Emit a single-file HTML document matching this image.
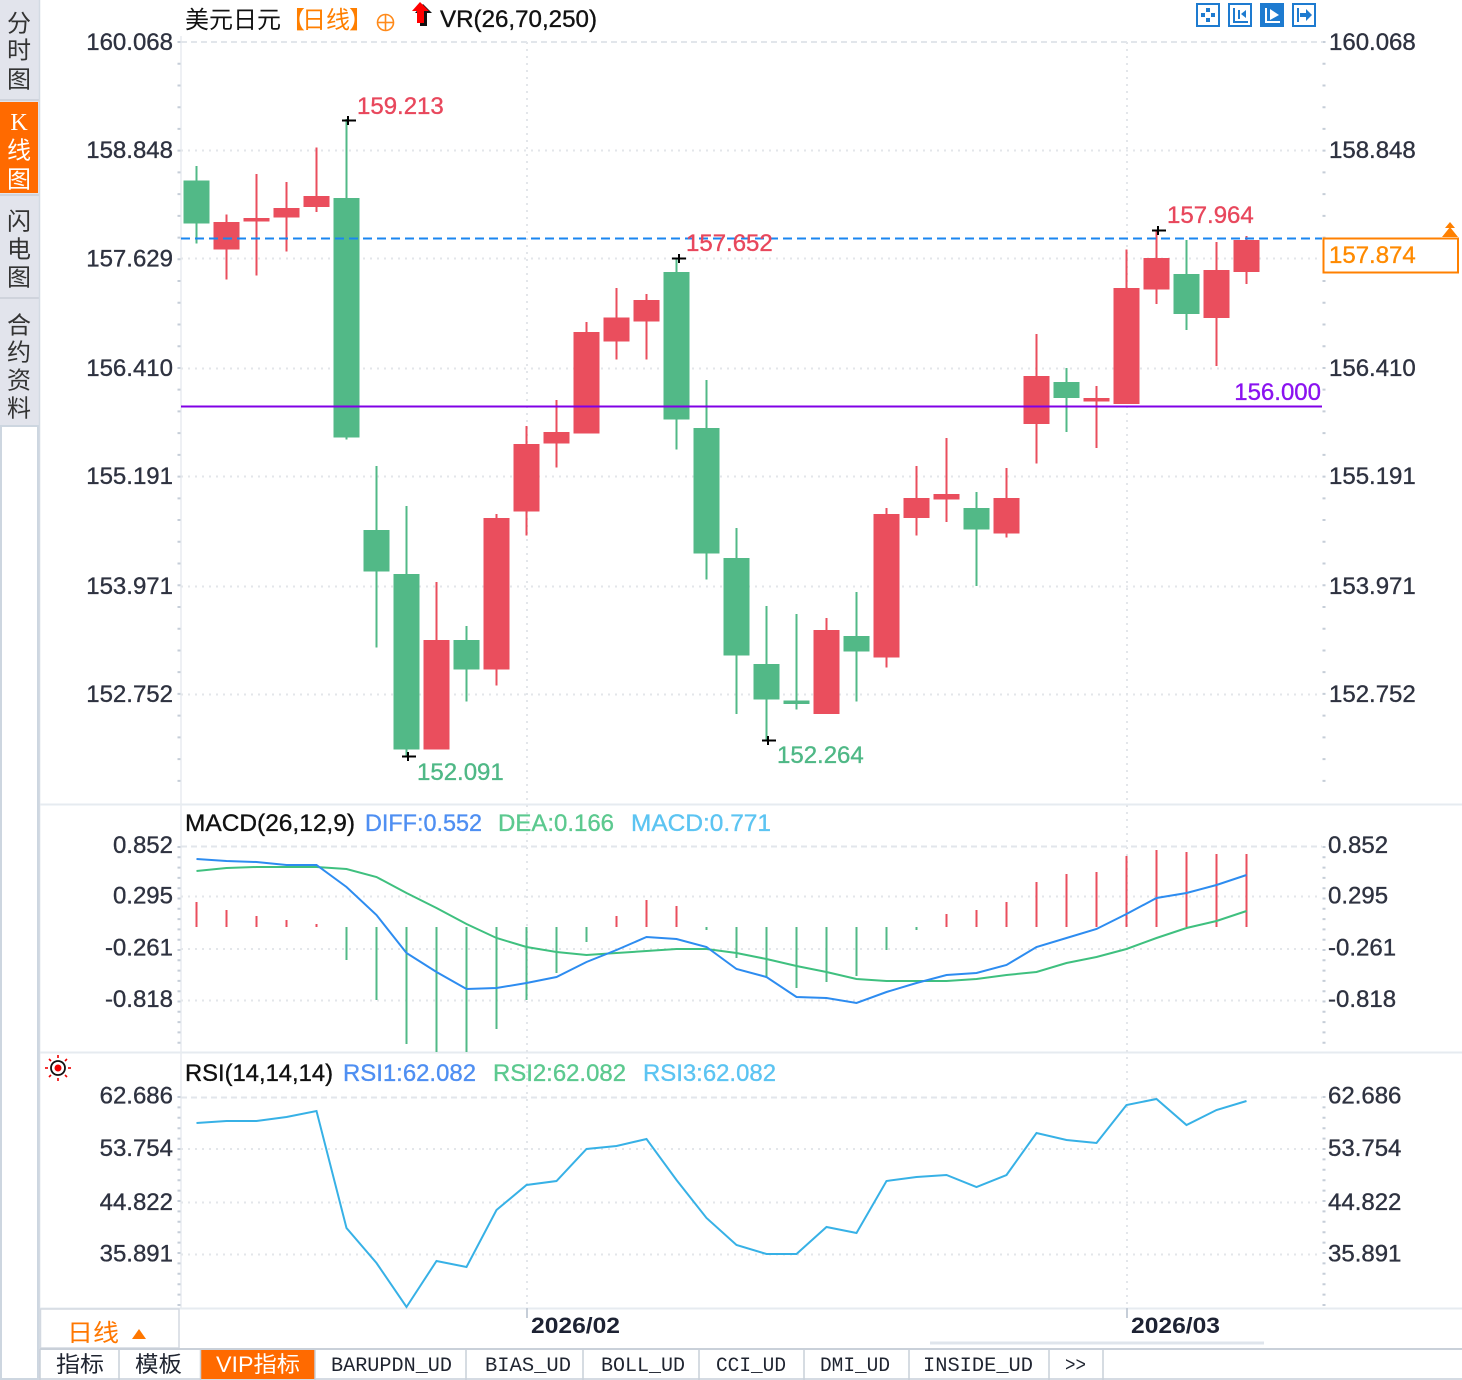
<!DOCTYPE html>
<html><head><meta charset="utf-8"><style>
html,body{margin:0;padding:0;background:#fff;}
svg{display:block;}
.ax{font-family:"Liberation Sans",Arial,sans-serif;font-size:24px;fill:#2e3240;stroke:#2e3240;stroke-width:0.35px;}
.cj{font-family:"Liberation Sans","Noto Sans CJK SC","WenQuanYi Zen Hei",sans-serif;}
.mono{font-family:"Liberation Mono","Noto Sans CJK SC",monospace;font-size:20px;fill:#1f2430;}
.hb{stroke-width:0.35px;}
</style></head><body>
<svg width="1462" height="1380" viewBox="0 0 1462 1380" xmlns="http://www.w3.org/2000/svg">
<rect x="0" y="0" width="1462" height="1380" fill="#fff"/>

<!-- Left sidebar -->
<rect x="0" y="0" width="40" height="426" fill="#e2e4ec"/>
<rect x="0" y="102" width="38" height="91" fill="#ff6a00"/>
<line x1="0" y1="100" x2="40" y2="100" stroke="#cfd3dc" stroke-width="2"/>
<line x1="0" y1="195" x2="40" y2="195" stroke="#cfd3dc" stroke-width="2"/>
<line x1="0" y1="298" x2="40" y2="298" stroke="#cfd3dc" stroke-width="2"/>
<rect x="1" y="426" width="37" height="953" fill="#fff" stroke="#cdd6e0" stroke-width="2"/>
<g class="cj" font-size="24" text-anchor="middle" dominant-baseline="central" fill="#333">
<text x="19" y="24">分</text><text x="19" y="51">时</text><text x="19" y="80">图</text>
<text x="19" y="123" fill="#fff" font-family="Liberation Serif">K</text><text x="19" y="151" fill="#fff">线</text><text x="19" y="180" fill="#fff">图</text>
<text x="19" y="222">闪</text><text x="19" y="250">电</text><text x="19" y="278">图</text>
<text x="19" y="326">合</text><text x="19" y="353">约</text><text x="19" y="381">资</text><text x="19" y="409">料</text>
</g>
<line x1="39.5" y1="0" x2="39.5" y2="1380" stroke="#d3dae3" stroke-width="1.5"/>

<!-- Panel separators -->
<g stroke="#e6ebf0" stroke-width="2">
<line x1="40" y1="804.5" x2="1462" y2="804.5"/>
<line x1="40" y1="1052.5" x2="1462" y2="1052.5"/>
<line x1="40" y1="1308.5" x2="1462" y2="1308.5"/>
</g>
<!-- Left axis line -->
<line x1="181" y1="36" x2="181" y2="1308" stroke="#e8ecf0" stroke-width="1.5"/>
<g stroke="#c6ced8" stroke-width="3">
<line x1="179" y1="41" x2="179" y2="800" stroke-dasharray="2 19.73"/>
<line x1="1324" y1="41" x2="1324" y2="800" stroke-dasharray="2 19.73"/>
<line x1="179" y1="846" x2="179" y2="1050" stroke-dasharray="2 8.3"/>
<line x1="1324" y1="846" x2="1324" y2="1050" stroke-dasharray="2 8.3"/>
<line x1="179" y1="1096" x2="179" y2="1306" stroke-dasharray="2 8.4"/>
<line x1="1324" y1="1096" x2="1324" y2="1306" stroke-dasharray="2 8.4"/>
</g>

<!-- Grid lines -->
<g stroke="#e2e6eb" stroke-width="2" shape-rendering="crispEdges">
<line x1="181" y1="42" x2="1322" y2="42" stroke-dasharray="6 4"/>
<line x1="181" y1="846.7" x2="1322" y2="846.7" stroke-dasharray="6 4"/>
<line x1="181" y1="1097.3" x2="1322" y2="1097.3" stroke-dasharray="6 4"/>
</g>
<g stroke="#e3e6ea" stroke-width="2" stroke-dasharray="2 5" shape-rendering="crispEdges">
<line x1="181" y1="150.7" x2="1322" y2="150.7"/>
<line x1="181" y1="258.5" x2="1322" y2="258.5"/>
<line x1="181" y1="368.6" x2="1322" y2="368.6"/>
<line x1="181" y1="476.4" x2="1322" y2="476.4"/>
<line x1="181" y1="586.4" x2="1322" y2="586.4"/>
<line x1="181" y1="694.3" x2="1322" y2="694.3"/>
<line x1="181" y1="896.7" x2="1322" y2="896.7"/>
<line x1="181" y1="949" x2="1322" y2="949"/>
<line x1="181" y1="1000.7" x2="1322" y2="1000.7"/>
<line x1="181" y1="1149" x2="1322" y2="1149"/>
<line x1="181" y1="1202.7" x2="1322" y2="1202.7"/>
<line x1="181" y1="1254.3" x2="1322" y2="1254.3"/>
<line x1="527" y1="42" x2="527" y2="1308"/>
<line x1="1127" y1="42" x2="1127" y2="1308"/>
</g>

<!-- Header -->
<text class="cj" x="185" y="28" font-size="24" fill="#111">美元日元</text>
<g class="cj" font-size="24" fill="#ff7f00">
<text x="281" y="28">【</text><text x="302" y="28">日线</text><text x="349" y="28">】</text>
</g>
<circle cx="385.5" cy="22.5" r="8" fill="none" stroke="#ff8a1a" stroke-width="1.6"/>
<line x1="377.5" y1="22.5" x2="393.5" y2="22.5" stroke="#ff8a1a" stroke-width="1.6"/>
<line x1="385.5" y1="14.5" x2="385.5" y2="30.5" stroke="#ff8a1a" stroke-width="1.6"/>
<path d="M423 4 L432 13 L427 13 L427 26 L420 26 L420 13 L415 13 Z" fill="#111"/>
<path d="M420 2 L429 11 L424 11 L424 23 L417 23 L417 11 L412 11 Z" fill="#ff0000"/>
<text x="440" y="27" font-family="Liberation Sans,sans-serif" font-size="24" fill="#111" stroke="#111" class="hb" textLength="157" lengthAdjust="spacingAndGlyphs">VR(26,70,250)</text>

<!-- Top-right icons -->
<g stroke="#1e7bd0" stroke-width="2" fill="none">
<rect x="1197" y="4" width="22" height="22"/>
<rect x="1229" y="4" width="22" height="22"/>
<rect x="1261" y="4" width="22" height="22" fill="#1e7bd0"/>
<rect x="1293" y="4" width="22" height="22"/>
</g>
<g fill="#1e7bd0">
<rect x="1206" y="8" width="4" height="4"/><rect x="1206" y="18" width="4" height="4"/>
<rect x="1201" y="13" width="4" height="4"/><rect x="1211" y="13" width="4" height="4"/>
<rect x="1233" y="8" width="2" height="15"/><rect x="1233" y="21" width="15" height="2"/>
<rect x="1238" y="10" width="2" height="9"/><path d="M1241 14 L1246 10 L1246 18 Z"/>
<rect x="1297" y="8" width="2" height="14"/><rect x="1300" y="13" width="7" height="4"/><path d="M1306 9 L1312 15 L1306 21 Z"/>
</g>
<g fill="#fff">
<rect x="1265" y="8" width="2" height="15"/><rect x="1265" y="21" width="15" height="2"/>
<path d="M1270 9 L1279 15 L1270 20 Z"/>
</g>

<!-- Candles -->
<g fill="#52b987" shape-rendering="crispEdges">
<rect x="195.5" y="166" width="2" height="77.5"/><rect x="183.5" y="180.5" width="26" height="43.2"/>
<rect x="345.5" y="119" width="2" height="320.7"/><rect x="333.5" y="198.1" width="26" height="239.4"/>
<rect x="375.5" y="466" width="2" height="181.4"/><rect x="363.5" y="530" width="26" height="41.7"/>
<rect x="405.5" y="506" width="2" height="250"/><rect x="393.5" y="574" width="26" height="175.5"/>
<rect x="465.5" y="626" width="2" height="75.5"/><rect x="453.5" y="640" width="26" height="29.4"/>
<rect x="675.5" y="258" width="2" height="191.4"/><rect x="663.5" y="272" width="26" height="147.5"/>
<rect x="705.5" y="380" width="2" height="199.5"/><rect x="693.5" y="428" width="26" height="125.6"/>
<rect x="735.5" y="528" width="2" height="185.8"/><rect x="723.5" y="558" width="26" height="97.7"/>
<rect x="765.5" y="606" width="2" height="135"/><rect x="753.5" y="664" width="26" height="35.7"/>
<rect x="795.5" y="614" width="2" height="95.7"/><rect x="783.5" y="700.5" width="26" height="3.3"/>
<rect x="855.5" y="592" width="2" height="109.6"/><rect x="843.5" y="636" width="26" height="15.7"/>
<rect x="975.5" y="492" width="2" height="93.8"/><rect x="963.5" y="508" width="26" height="21.6"/>
<rect x="1065.5" y="368" width="2" height="64"/><rect x="1053.5" y="382" width="26" height="16"/>
<rect x="1185.5" y="240" width="2" height="90"/><rect x="1173.5" y="274" width="26" height="40"/>
</g>
<g fill="#ea4e5d" shape-rendering="crispEdges">
<rect x="225.5" y="214.4" width="2" height="65.1"/><rect x="213.5" y="221.9" width="26" height="27.7"/>
<rect x="255.5" y="173.9" width="2" height="101.7"/><rect x="243.5" y="217.9" width="26" height="3.6"/>
<rect x="285.5" y="181.8" width="2" height="69.6"/><rect x="273.5" y="207.8" width="26" height="9.7"/>
<rect x="315.5" y="147.5" width="2" height="64.3"/><rect x="303.5" y="195.9" width="26" height="11"/>
<rect x="435.5" y="582" width="2" height="167.5"/><rect x="423.5" y="640" width="26" height="109.5"/>
<rect x="495.5" y="514" width="2" height="171.7"/><rect x="483.5" y="518" width="26" height="151.4"/>
<rect x="525.5" y="426" width="2" height="109.6"/><rect x="513.5" y="444" width="26" height="67.4"/>
<rect x="555.5" y="400" width="2" height="67.4"/><rect x="543.5" y="431.8" width="26" height="11.9"/>
<rect x="585.5" y="322" width="2" height="111.6"/><rect x="573.5" y="332" width="26" height="101.6"/>
<rect x="615.5" y="288" width="2" height="71.6"/><rect x="603.5" y="317.4" width="26" height="24.2"/>
<rect x="645.5" y="294" width="2" height="65.6"/><rect x="633.5" y="299.8" width="26" height="21.5"/>
<rect x="825.5" y="618" width="2" height="95.8"/><rect x="813.5" y="629.8" width="26" height="84"/>
<rect x="885.5" y="508" width="2" height="159.6"/><rect x="873.5" y="514" width="26" height="143.6"/>
<rect x="915.5" y="466" width="2" height="69.5"/><rect x="903.5" y="498" width="26" height="19.8"/>
<rect x="945.5" y="438" width="2" height="83.8"/><rect x="933.5" y="494" width="26" height="5.6"/>
<rect x="1005.5" y="468" width="2" height="69.7"/><rect x="993.5" y="498" width="26" height="35.7"/>
<rect x="1035.5" y="334" width="2" height="129.7"/><rect x="1023.5" y="376" width="26" height="47.8"/>
<rect x="1095.5" y="386" width="2" height="61.8"/><rect x="1083.5" y="398" width="26" height="3.6"/>
<rect x="1125.5" y="249.6" width="2" height="154.2"/><rect x="1113.5" y="288" width="26" height="115.8"/>
<rect x="1155.5" y="230" width="2" height="74"/><rect x="1143.5" y="258" width="26" height="31.5"/>
<rect x="1215.5" y="242" width="2" height="124"/><rect x="1203.5" y="270" width="26" height="48"/>
<rect x="1245.5" y="236" width="2" height="48"/><rect x="1233.5" y="240" width="26" height="32"/>
</g>

<!-- Reference lines -->
<line x1="181" y1="238.5" x2="1322" y2="238.5" stroke="#1a86f0" stroke-width="2" stroke-dasharray="9 5"/>
<line x1="181" y1="406.5" x2="1322" y2="406.5" stroke="#8000e6" stroke-width="2"/>

<!-- Crosses -->
<g stroke="#000" stroke-width="2">
<line x1="342" y1="120.5" x2="356" y2="120.5"/><line x1="348" y1="116" x2="348" y2="125"/>
<line x1="672" y1="258.5" x2="686" y2="258.5"/><line x1="679" y1="254" x2="679" y2="263"/>
<line x1="402" y1="756.5" x2="416" y2="756.5"/><line x1="408" y1="752" x2="408" y2="761"/>
<line x1="762" y1="740.5" x2="776" y2="740.5"/><line x1="768" y1="736" x2="768" y2="745"/>
<line x1="1152" y1="230.5" x2="1166" y2="230.5"/><line x1="1158" y1="226" x2="1158" y2="235"/>
</g>

<!-- Price labels -->
<g font-family="Liberation Sans,sans-serif" font-size="24" class="hb">
<text x="357" y="114" fill="#e8475c" stroke="#e8475c">159.213</text>
<text x="686" y="251" fill="#e8475c" stroke="#e8475c">157.652</text>
<text x="1167" y="223" fill="#e8475c" stroke="#e8475c">157.964</text>
<text x="417" y="780" fill="#4fb886" stroke="#4fb886">152.091</text>
<text x="777" y="763" fill="#4fb886" stroke="#4fb886">152.264</text>
<text x="1321" y="400" fill="#8a12f0" stroke="#8a12f0" text-anchor="end">156.000</text>
</g>
<rect x="1323.5" y="238.5" width="134.5" height="34" fill="#fff" stroke="#ff8000" stroke-width="2"/>
<text x="1329" y="263" font-family="Liberation Sans,sans-serif" font-size="24" fill="#ff8a00" stroke="#ff8a00" class="hb">157.874</text>
<path d="M1450 222 L1455 228 L1445 228 Z M1450 227 L1458 237 L1442 237 Z" fill="#ff8000"/>

<!-- Axis labels main -->
<g class="ax" text-anchor="end">
<text x="173" y="50">160.068</text>
<text x="173" y="158">158.848</text>
<text x="173" y="266.5">157.629</text>
<text x="173" y="376">156.410</text>
<text x="173" y="484">155.191</text>
<text x="173" y="594">153.971</text>
<text x="173" y="702">152.752</text>
<text x="173" y="853">0.852</text>
<text x="173" y="903.5">0.295</text>
<text x="173" y="955.5">-0.261</text>
<text x="173" y="1007">-0.818</text>
<text x="173" y="1103.5">62.686</text>
<text x="173" y="1156">53.754</text>
<text x="173" y="1210">44.822</text>
<text x="173" y="1261.5">35.891</text>
</g>
<g class="ax">
<text x="1329" y="50">160.068</text>
<text x="1329" y="158">158.848</text>
<text x="1329" y="376">156.410</text>
<text x="1329" y="484">155.191</text>
<text x="1329" y="594">153.971</text>
<text x="1329" y="702">152.752</text>
<text x="1328" y="853">0.852</text>
<text x="1328" y="903.5">0.295</text>
<text x="1328" y="955.5">-0.261</text>
<text x="1328" y="1007">-0.818</text>
<text x="1328" y="1103.5">62.686</text>
<text x="1328" y="1156">53.754</text>
<text x="1328" y="1210">44.822</text>
<text x="1328" y="1261.5">35.891</text>
</g>

<!-- MACD -->
<g font-family="Liberation Sans,sans-serif" font-size="24" class="hb">
<text x="185" y="831" fill="#111" stroke="#111" textLength="170" lengthAdjust="spacingAndGlyphs">MACD(26,12,9)</text>
<text x="365" y="831" fill="#4f8ff2" stroke="#4f8ff2" textLength="117" lengthAdjust="spacingAndGlyphs">DIFF:0.552</text>
<text x="498" y="831" fill="#5cc98f" stroke="#5cc98f" textLength="116" lengthAdjust="spacingAndGlyphs">DEA:0.166</text>
<text x="631" y="831" fill="#5cc4f2" stroke="#5cc4f2" textLength="140" lengthAdjust="spacingAndGlyphs">MACD:0.771</text>
</g>
<g fill="#ea4e5d" shape-rendering="crispEdges">
<rect x="195.5" y="902" width="2" height="25"/>
<rect x="225.5" y="910" width="2" height="17"/>
<rect x="255.5" y="916" width="2" height="11"/>
<rect x="285.5" y="920" width="2" height="7"/>
<rect x="315.5" y="924" width="2" height="3"/>
<rect x="615.5" y="916" width="2" height="11"/>
<rect x="645.5" y="900" width="2" height="27"/>
<rect x="675.5" y="906" width="2" height="21"/>
<rect x="945.5" y="914" width="2" height="13"/>
<rect x="975.5" y="910" width="2" height="17"/>
<rect x="1005.5" y="902" width="2" height="25"/>
<rect x="1035.5" y="882" width="2" height="45"/>
<rect x="1065.5" y="874" width="2" height="53"/>
<rect x="1095.5" y="872" width="2" height="55"/>
<rect x="1125.5" y="856" width="2" height="71"/>
<rect x="1155.5" y="850" width="2" height="77"/>
<rect x="1185.5" y="852" width="2" height="75"/>
<rect x="1215.5" y="854" width="2" height="73"/>
<rect x="1245.5" y="854" width="2" height="73"/>
</g>
<g fill="#52b987" shape-rendering="crispEdges">
<rect x="345.5" y="927" width="2" height="33"/>
<rect x="375.5" y="927" width="2" height="73"/>
<rect x="405.5" y="927" width="2" height="117"/>
<rect x="435.5" y="927" width="2" height="125"/>
<rect x="465.5" y="927" width="2" height="125"/>
<rect x="495.5" y="927" width="2" height="102"/>
<rect x="525.5" y="927" width="2" height="73"/>
<rect x="555.5" y="927" width="2" height="46"/>
<rect x="585.5" y="927" width="2" height="15"/>
<rect x="705.5" y="927" width="2" height="3"/>
<rect x="735.5" y="927" width="2" height="31"/>
<rect x="765.5" y="927" width="2" height="51"/>
<rect x="795.5" y="927" width="2" height="61"/>
<rect x="825.5" y="927" width="2" height="55"/>
<rect x="855.5" y="927" width="2" height="49"/>
<rect x="885.5" y="927" width="2" height="23"/>
<rect x="915.5" y="927" width="2" height="3"/>
</g>
<polyline fill="none" stroke="#3fc07f" stroke-width="2" points="196.5,871 226.5,868 256.5,867 286.5,867 316.5,867 346.5,869 376.5,877 406.5,893 436.5,908 466.5,924 496.5,938 526.5,947 556.5,952 586.5,955 616.5,953 646.5,951 676.5,949 706.5,949 736.5,953 766.5,959 796.5,966 826.5,972 856.5,979 886.5,981 916.5,981 946.5,981 976.5,979 1006.5,975 1036.5,972 1066.5,963 1096.5,957 1126.5,949 1156.5,938 1186.5,928 1216.5,921 1246.5,911"/>
<polyline fill="none" stroke="#2d8cf0" stroke-width="2" points="196.5,859 226.5,861 256.5,862 286.5,865 316.5,865 346.5,887 376.5,915 406.5,953 436.5,972 466.5,989 496.5,988 526.5,983 556.5,977 586.5,962 616.5,950 646.5,937 676.5,939 706.5,947 736.5,969 766.5,977 796.5,997 826.5,998 856.5,1003 886.5,992 916.5,983 946.5,975 976.5,973 1006.5,965 1036.5,947 1066.5,938 1096.5,929 1126.5,914 1156.5,898 1186.5,893 1216.5,885 1246.5,875"/>

<!-- RSI -->
<g>
<circle cx="58" cy="1068" r="7" fill="none" stroke="#111" stroke-width="1.8"/>
<circle cx="58" cy="1068" r="3.5" fill="#e00"/>
<g stroke="#e00" stroke-width="1.6">
<line x1="58" y1="1055" x2="58" y2="1058"/><line x1="58" y1="1078" x2="58" y2="1081"/>
<line x1="45" y1="1068" x2="48" y2="1068"/><line x1="68" y1="1068" x2="71" y2="1068"/>
<line x1="49" y1="1059" x2="51" y2="1061"/><line x1="65" y1="1075" x2="67" y2="1077"/>
<line x1="67" y1="1059" x2="65" y2="1061"/><line x1="49" y1="1077" x2="51" y2="1075"/>
</g>
</g>
<g font-family="Liberation Sans,sans-serif" font-size="24" class="hb">
<text x="185" y="1081" fill="#111" stroke="#111" textLength="148" lengthAdjust="spacingAndGlyphs">RSI(14,14,14)</text>
<text x="343" y="1081" fill="#4f8ff2" stroke="#4f8ff2" textLength="133" lengthAdjust="spacingAndGlyphs">RSI1:62.082</text>
<text x="493" y="1081" fill="#5cc98f" stroke="#5cc98f" textLength="133" lengthAdjust="spacingAndGlyphs">RSI2:62.082</text>
<text x="643" y="1081" fill="#5cc4f2" stroke="#5cc4f2" textLength="133" lengthAdjust="spacingAndGlyphs">RSI3:62.082</text>
</g>
<polyline fill="none" stroke="#37b1e6" stroke-width="2" points="196.5,1123 226.5,1121 256.5,1121 286.5,1117 316.5,1111 346.5,1228 376.5,1263 406.5,1307 436.5,1261 466.5,1267 496.5,1210 526.5,1185 556.5,1181 586.5,1149 616.5,1146 646.5,1139 676.5,1180 706.5,1218 736.5,1245 766.5,1254 796.5,1254 826.5,1227 856.5,1233 886.5,1181 916.5,1177 946.5,1175 976.5,1187 1006.5,1175 1036.5,1133 1066.5,1140 1096.5,1143 1126.5,1105 1156.5,1099 1186.5,1125 1216.5,1110 1246.5,1101"/>

<!-- X axis -->
<rect x="40.5" y="1309" width="138.5" height="39" fill="#fff" stroke="#d3d9e1" stroke-width="1.5"/>
<text class="cj" x="67" y="1341" font-size="24" fill="#ff7700" textLength="52" lengthAdjust="spacingAndGlyphs">日线</text>
<path d="M139 1329 L146 1339 L132 1339 Z" fill="#ff7700"/>
<line x1="527" y1="1308" x2="527" y2="1318" stroke="#c6ced8" stroke-width="2"/>
<line x1="1127" y1="1308" x2="1127" y2="1318" stroke="#c6ced8" stroke-width="2"/>
<g font-family="Liberation Sans,sans-serif" font-size="22" font-weight="bold" fill="#1d2233">
<text x="531" y="1333" textLength="89" lengthAdjust="spacingAndGlyphs">2026/02</text>
<text x="1131" y="1333" textLength="89" lengthAdjust="spacingAndGlyphs">2026/03</text>
</g>
<line x1="930" y1="1343" x2="1264" y2="1343" stroke="#dfe5ec" stroke-width="3"/>

<!-- Bottom tabs -->
<line x1="40" y1="1349" x2="1462" y2="1349" stroke="#c9d0d9" stroke-width="2"/>
<line x1="40" y1="1379" x2="1462" y2="1379" stroke="#d5dbe3" stroke-width="2"/>
<rect x="201" y="1350" width="114" height="29" fill="#ff6a00"/>
<g stroke="#c9d0d9" stroke-width="1.5">
<line x1="40" y1="1349" x2="40" y2="1380"/>
<line x1="119" y1="1349" x2="119" y2="1380"/>
<line x1="200.5" y1="1349" x2="200.5" y2="1380"/>
<line x1="315" y1="1349" x2="315" y2="1380"/>
<line x1="466" y1="1349" x2="466" y2="1380"/>
<line x1="583" y1="1349" x2="583" y2="1380"/>
<line x1="699" y1="1349" x2="699" y2="1380"/>
<line x1="804" y1="1349" x2="804" y2="1380"/>
<line x1="909" y1="1349" x2="909" y2="1380"/>
<line x1="1049" y1="1349" x2="1049" y2="1380"/>
<line x1="1103" y1="1349" x2="1103" y2="1380"/>
</g>
<g class="mono">
<text x="56" y="1372" class="cj" font-size="22" fill="#1f2430" textLength="48" lengthAdjust="spacingAndGlyphs">指标</text>
<text x="135" y="1372" class="cj" font-size="22" fill="#1f2430" textLength="47" lengthAdjust="spacingAndGlyphs">模板</text>
<text x="216" y="1372" class="cj" font-size="22" fill="#fff" textLength="84" lengthAdjust="spacingAndGlyphs">VIP指标</text>
<text x="331" y="1371" textLength="121" lengthAdjust="spacingAndGlyphs">BARUPDN_UD</text>
<text x="485" y="1371" textLength="86" lengthAdjust="spacingAndGlyphs">BIAS_UD</text>
<text x="601" y="1371" textLength="84" lengthAdjust="spacingAndGlyphs">BOLL_UD</text>
<text x="716" y="1371" textLength="70" lengthAdjust="spacingAndGlyphs">CCI_UD</text>
<text x="820" y="1371" textLength="70" lengthAdjust="spacingAndGlyphs">DMI_UD</text>
<text x="923" y="1371" textLength="110" lengthAdjust="spacingAndGlyphs">INSIDE_UD</text>
<text x="1065" y="1371" textLength="21" lengthAdjust="spacingAndGlyphs">&gt;&gt;</text>
</g>
</svg>
</body></html>
